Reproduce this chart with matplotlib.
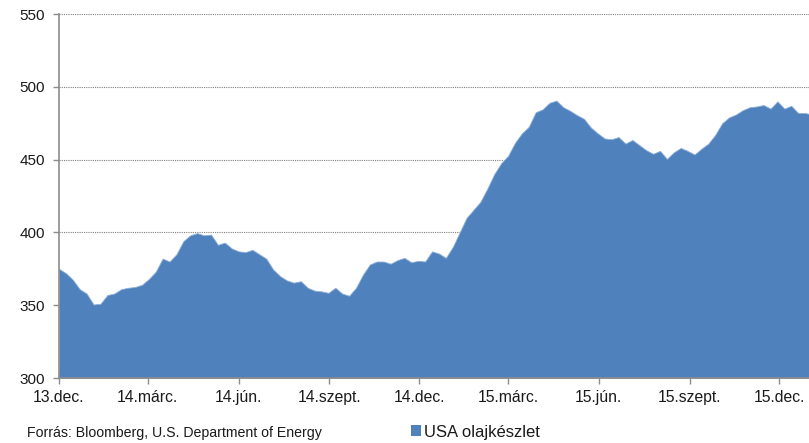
import pandas as pd
import numpy as np
import matplotlib
matplotlib.use('Agg')
import matplotlib.pyplot as plt
from matplotlib.patches import Patch

plt.rcParams['font.family'] = ['Liberation Sans', 'DejaVu Sans']

# Weekly US crude oil inventories (million barrels)
stock = [
    375, 372, 367.5, 361, 358, 350.5, 351, 357, 358, 361,
    362, 362.5, 364, 368, 373, 382, 380, 385, 394, 398,
    399.5, 398, 398.5, 391.5, 393, 389, 387, 386.5, 388, 385,
    382, 374.5, 370, 367, 365.5, 366.5, 362, 360, 359.5, 358.5,
    362, 358, 356.5, 362, 371, 378, 380, 380, 378.5, 381,
    382.5, 379.5, 380.5, 380, 387, 385.5, 382.5, 390, 400, 410,
    415.5, 421, 430, 440, 447.5, 452.5, 461.5, 468, 472.5, 482.5,
    484.5, 489, 490.5, 486, 483.5, 480.5, 478, 472, 468, 464.5,
    464, 465.5, 461, 463.5, 460, 456.5, 454, 456, 450.5, 455,
    458, 456, 453.5, 457.5, 461, 467, 475, 479, 481, 484,
    486, 486.5, 487.5, 485, 490, 485, 487, 482, 482, 481,
]
start_date = '2013-12-06'
end_date = '2016-01-05'
dates = pd.date_range(start_date, periods=len(stock), freq='7D')

tick_dates = pd.to_datetime(['2013-12-06', '2014-03-06', '2014-06-06', '2014-09-06',
                             '2014-12-06', '2015-03-06', '2015-06-06', '2015-09-06',
                             '2015-12-06'])
tick_labels = ['13.dec.', '14.márc.', '14.jún.', '14.szept.', '14.dec.',
               '15.márc.', '15.jún.', '15.szept.', '15.dec.']
y_ticks = [300, 350, 400, 450, 500, 550]

fill_color = '#4F81BD'
axis_color = '#8c8c8c'
text_color = '#1a1a1a'

fig = plt.figure(figsize=(8.09, 4.43), dpi=100)
ax = fig.add_axes([59 / 809, 1 - 378 / 443, 1 - 59 / 809, (378 - 14) / 443])

ax.fill_between(dates, stock, 300, color=fill_color, linewidth=0.6,
                edgecolor='#8fb0d8', zorder=2)

ax.set_ylim(300, 550)
ax.set_xlim(pd.Timestamp(start_date), pd.Timestamp(end_date))
ax.set_yticks(y_ticks)
ax.set_xticks(tick_dates)
ax.set_xticklabels(tick_labels)

ax.grid(axis='y', linestyle=(0, (1, 1)), color='#808080', linewidth=0.8, zorder=0)
ax.set_axisbelow(True)

for side in ['top', 'right']:
    ax.spines[side].set_visible(False)
for side in ['left', 'bottom']:
    ax.spines[side].set_color(axis_color)
    ax.spines[side].set_linewidth(1.2)
    ax.spines[side].set_zorder(3)

ax.tick_params(axis='y', direction='out', length=4, width=1, color=axis_color,
               labelsize=11, labelcolor=text_color, pad=6)
ax.tick_params(axis='x', direction='inout', length=9, width=1, color=axis_color,
               labelsize=11.3, labelcolor=text_color, pad=4)

# Source note and legend below the plot
fig.text(27 / 809, 1 - 433 / 443, 'Forrás: Bloomberg, U.S. Department of Energy',
         fontsize=10.2, color=text_color, va='center', ha='left')

handles = [Patch(facecolor=fill_color, edgecolor='none', label='USA olajkészlet')]
fig.legend(handles=handles, loc='center left', bbox_to_anchor=(411 / 809, 1 - 432 / 443),
           frameon=False, fontsize=12, handlelength=0.62, handleheight=0.62,
           handletextpad=0.15, borderpad=0, borderaxespad=0, labelcolor=text_color)

fig.savefig('out.png', dpi=100)
